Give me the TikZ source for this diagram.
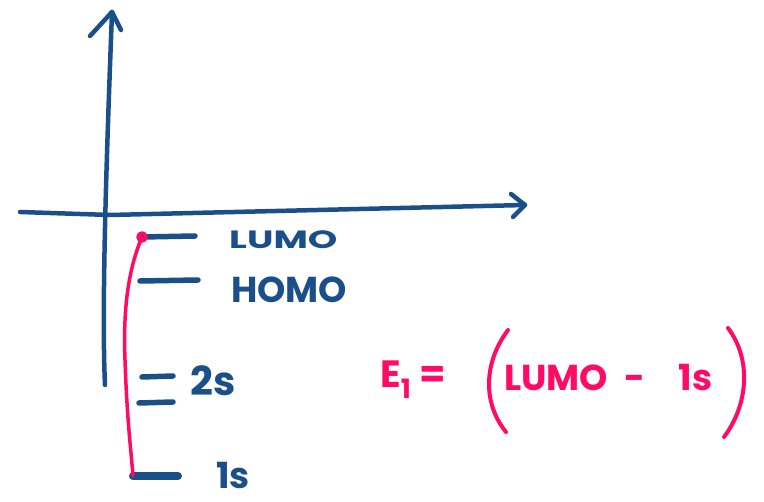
\documentclass[tikz,border=0pt]{standalone}
\usepackage{fontspec}
\setmainfont{Poppins}
\definecolor{inkblue}{HTML}{1B4F8A}
\definecolor{inkpink}{HTML}{FF0A64}
\begin{document}
\begin{tikzpicture}[x=1pt,y=-1pt,
  axisline/.style={draw=inkblue,line width=4.5,line cap=round,line join=round},
  levelline/.style={draw=inkblue,line width=5.5,line cap=round},
  pinkline/.style={draw=inkpink,line width=3.5,line cap=round,line join=round},
  lbl/.style={text=inkblue,anchor=west,inner sep=0pt},
  pinktext/.style={text=inkpink,inner sep=0pt,font=\bfseries\fontsize{38}{38}\selectfont}
]
\useasboundingbox (0,0) rectangle (764,502);
% axes
\coordinate (ytop) at (112,12);
\coordinate (ybot) at (105,385);
\coordinate (xleft) at (20,212);
\coordinate (xright) at (525,205);
\draw[axisline] (ybot) .. controls (101,300) and (108,120) .. (ytop);
\draw[axisline] (90,36) -- (ytop) -- (121,30);
\draw[axisline] (xleft) -- (110,215) -- (xright);
\draw[axisline] (511,194) -- (xright) -- (513,217);
% levels
\coordinate (lumoL) at (142,237); \coordinate (lumoR) at (195,236);
\coordinate (homoL) at (140,281); \coordinate (homoR) at (198,280);
\coordinate (sa) at (142,377);    \coordinate (sb) at (173,376);
\coordinate (sc) at (139,403);    \coordinate (sd) at (173,402);
\coordinate (onesL) at (133,476); \coordinate (onesR) at (178,476);
\draw[levelline] (lumoL) -- (lumoR);
\draw[levelline] (homoL) -- (homoR);
\draw[levelline] (sa) -- (sb);
\draw[levelline] (sc) -- (sd);
\draw[levelline,line width=8] (onesL) -- (onesR);
% labels
\node[lbl,font=\bfseries\fontsize{25}{25}\selectfont] (lumo) at (229,240) {\scalebox{1.5}[1]{LUMO}};
\node[lbl,font=\bfseries\fontsize{36}{36}\selectfont] (homo) at (231,290) {HOMO};
\node[lbl,font=\bfseries\fontsize{40}{40}\selectfont] (twos) at (190,381) {2s};
\node[lbl,font=\bfseries\fontsize{36}{36}\selectfont] (ones) at (216,476) {1s};
% pink connector
\draw[pinkline] (lumoL) circle (4);
\draw[pinkline] (lumoL) .. controls (128,270) and (123,310) .. (125,360)
  .. controls (127,420) and (131,450) .. (onesL);
% formula
\node[pinktext,anchor=west] (e1) at (380,380) {E\textsubscript{1} =};
\node[pinktext,anchor=west,font=\bfseries\fontsize{36}{36}\selectfont] (inner) at (504,378) {LUMO\hspace{16pt}-\hspace{34pt}1s};
\coordinate (lpT) at (508,330); \coordinate (lpB) at (506,432);
\coordinate (rpT) at (728,328); \coordinate (rpB) at (724,437);
\draw[pinkline,line width=4] (lpT) .. controls (482,365) and (484,405) .. (lpB);
\draw[pinkline,line width=4] (rpT) .. controls (752,360) and (748,405) .. (rpB);
\end{tikzpicture}
\end{document}
